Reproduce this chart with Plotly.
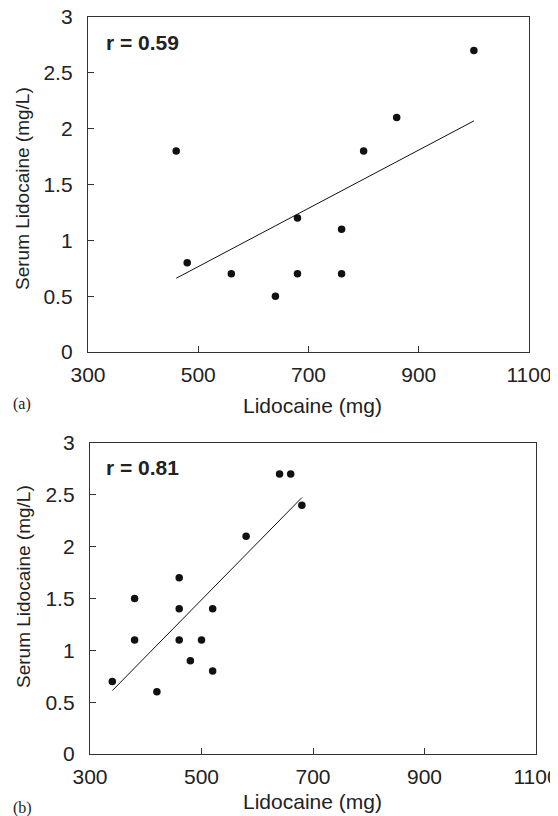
import numpy as np
import plotly.graph_objects as go

# panel (a)
dose_a = [460, 480, 560, 640, 680, 680, 760, 760, 800, 860, 1000]
serum_a = [1.8, 0.8, 0.7, 0.5, 1.2, 0.7, 1.1, 0.7, 1.8, 2.1, 2.7]

# panel (b)
dose_b = [340, 380, 380, 420, 460, 460, 460, 480, 500, 520, 520, 580, 640, 660, 680]
serum_b = [0.7, 1.5, 1.1, 0.6, 1.7, 1.4, 1.1, 0.9, 1.1, 1.4, 0.8, 2.1, 2.7, 2.7, 2.4]

x_ticks = [300, 500, 700, 900, 1100]
y_ticks = [0, 0.5, 1, 1.5, 2, 2.5, 3]
y_ticktext = ["0", "0.5", "1", "1.5", "2", "2.5", "3"]

# the page body keeps its default 8px margin, so the figure is shrunk by it
PAGE = 8
W, H = 558 - PAGE, 816 - PAGE
FONT = "Liberation Sans, Arial, sans-serif"
INK = "#222"


def fit_line(x, y):
    k, b = np.polyfit(x, y, 1)
    xs = np.array([min(x), max(x)])
    return xs, k * xs + b


fig = go.Figure()

for i, (xv, yv) in enumerate([(dose_a, serum_a), (dose_b, serum_b)]):
    xa = "x" if i == 0 else "x2"
    ya = "y" if i == 0 else "y2"
    lx, ly = fit_line(xv, yv)
    fig.add_trace(go.Scatter(x=lx, y=ly, mode="lines", xaxis=xa, yaxis=ya,
                             line=dict(color="#111", width=1), showlegend=False,
                             cliponaxis=False))
    fig.add_trace(go.Scatter(x=xv, y=yv, mode="markers", xaxis=xa, yaxis=ya,
                             marker=dict(color="#111", size=7.5), showlegend=False,
                             cliponaxis=False))


# page pixel -> paper fraction
def px_x(p):
    return (p - PAGE) / W


def px_y(p):
    return 1 - (p - PAGE) / H


xax = dict(range=[300, 1100], tickvals=x_ticks, ticks="inside", ticklen=6,
           tickcolor="#333", showline=True, linecolor="#333", linewidth=1.3,
           mirror=True, showgrid=False, zeroline=False, automargin=False,
           ticklabeloverflow="allow",
           tickfont=dict(family=FONT, size=21, color=INK), ticklabelstandoff=4)
yax = dict(range=[0, 3], tickvals=y_ticks, ticktext=y_ticktext, ticks="inside",
           ticklen=6, tickcolor="#333", showline=True, linecolor="#333",
           linewidth=1.3, mirror=True, showgrid=False, zeroline=False,
           automargin=False, ticklabeloverflow="allow",
           tickfont=dict(family=FONT, size=21, color=INK), ticklabelstandoff=10)

fig.update_layout(
    width=W, height=H,
    margin=dict(l=0, r=0, t=0, b=0, autoexpand=False),
    plot_bgcolor="white", paper_bgcolor="white",
    xaxis=dict(xax, domain=[px_x(88), px_x(529)], anchor="y"),
    yaxis=dict(yax, domain=[px_y(352), px_y(17)], anchor="x"),
    xaxis2=dict(xax, domain=[px_x(90), px_x(536)], anchor="y2"),
    yaxis2=dict(yax, domain=[px_y(754), px_y(443)], anchor="x2"),
)

notes = [
    # (text, x px, y px, size, bold, serif, angle, xanchor)
    ("r = 0.59", 104, 42, 21, True, False, 0, "left"),
    ("r = 0.81", 104, 468, 21, True, False, 0, "left"),
    ("Lidocaine (mg)", 312, 405, 21, False, False, 0, "center"),
    ("Lidocaine (mg)", 312, 801, 21, False, False, 0, "center"),
    ("Serum Lidocaine (mg/L)", 23, 189, 19, False, False, -90, "center"),
    ("Serum Lidocaine (mg/L)", 23, 587, 19, False, False, -90, "center"),
    ("(a)", 11, 404, 16, False, True, 0, "left"),
    ("(b)", 11, 808, 16, False, True, 0, "left"),
]
for text, x, y, size, bold, serif, ang, xanc in notes:
    fig.add_annotation(
        text=f"<b>{text}</b>" if bold else text,
        xref="paper", yref="paper", x=px_x(x), y=px_y(y),
        xanchor=xanc, yanchor="middle", showarrow=False, textangle=ang,
        font=dict(family="Liberation Serif, Times New Roman, serif" if serif else FONT,
                  size=size, color=INK),
    )

fig.write_html("out.html")
